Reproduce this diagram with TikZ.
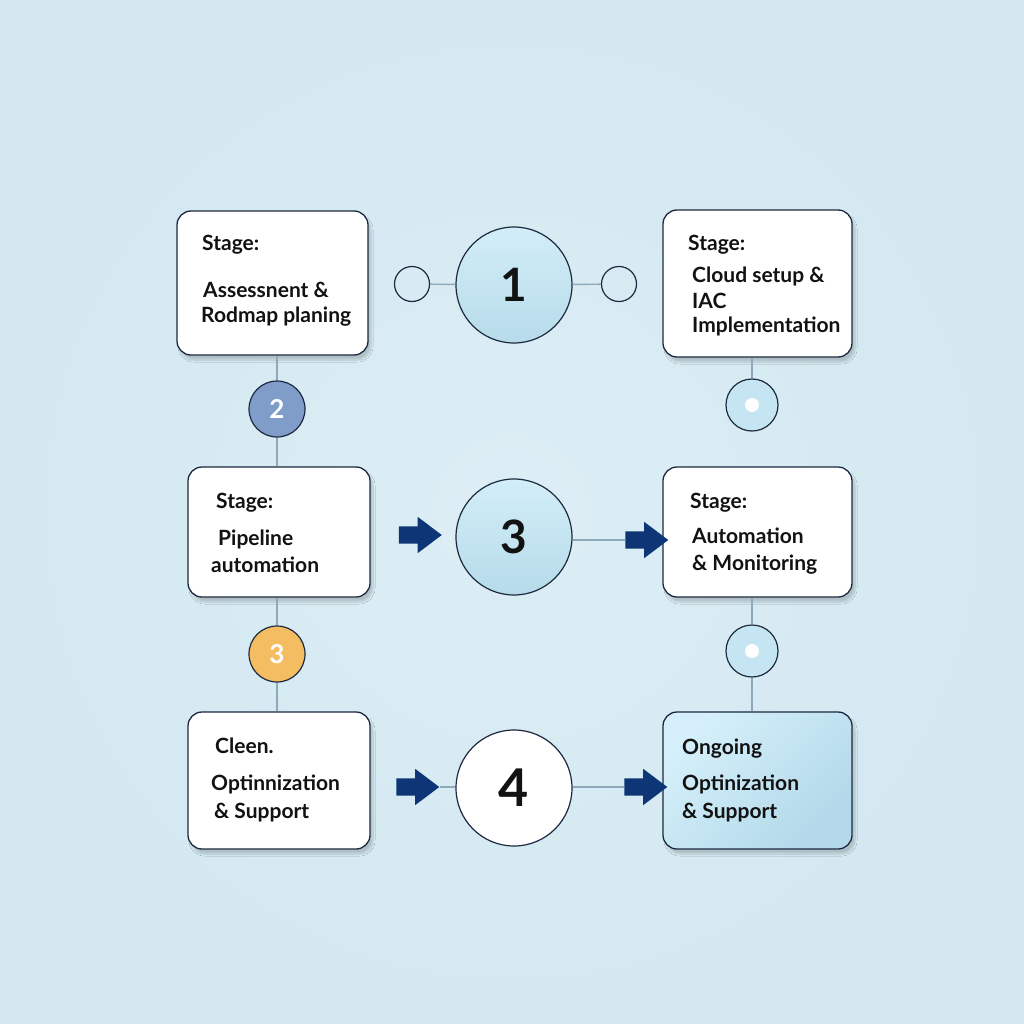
\documentclass[tikz,border=0pt]{standalone}
\usepackage{fontspec}
\setmainfont{Lato}
\usetikzlibrary{shapes.arrows,shadows.blur}
\definecolor{bg}{HTML}{D3E8F1}
\definecolor{bglight}{HTML}{DDEEF5}
\definecolor{ink}{HTML}{121212}
\definecolor{navyline}{HTML}{1C2940}
\definecolor{linkgray}{HTML}{8EA9BA}
\definecolor{arrowblue}{HTML}{0E3575}
\definecolor{disctop}{HTML}{D2EEF8}
\definecolor{discbot}{HTML}{B7DBEA}
\definecolor{markfill}{HTML}{C6E5F2}
\definecolor{twofill}{HTML}{7F9DC8}
\definecolor{orangefill}{HTML}{F4BD62}
\definecolor{ongtop}{HTML}{D5F0FA}
\definecolor{ongbot}{HTML}{B2D8E9}

\begin{document}
\begin{tikzpicture}[x=1pt,y=-1pt]
\tikzset{stagebox/.style = {draw=navyline, fill=white, rounded corners=14pt, line width=1.3pt, inner sep=0pt,
  blur shadow={shadow blur steps=10, shadow xshift=3pt, shadow yshift=-5pt, shadow opacity=18}}}
\tikzset{bigdisc/.style = {shape=circle, draw=navyline, line width=1.2pt, minimum size=116pt, inner sep=0pt,
  top color=disctop, bottom color=discbot, text=ink, font=\fontsize{46}{46}\selectfont\bfseries}}
\tikzset{ring/.style = {shape=circle, draw=navyline, line width=1.2pt, minimum size=35pt, inner sep=0pt}}
\tikzset{markdisc/.style = {shape=circle, draw=navyline, line width=1.2pt, minimum size=52pt, inner sep=0pt, fill=markfill}}
\tikzset{badge/.style = {shape=circle, draw=navyline, line width=1.2pt, minimum size=56pt, inner sep=0pt,
  text=white, font=\fontsize{26}{26}\selectfont\bfseries}}
\tikzset{blockarrow/.style = {single arrow, fill=arrowblue, inner xsep=0pt, inner ysep=8.5pt, minimum height=43pt,
  single arrow head extend=9.5pt, single arrow tip angle=74}}
\tikzset{link/.style = {draw=linkgray, line width=1.4pt}}
\tikzset{lbl/.style = {anchor=base west, inner sep=0pt, text=ink, font=\fontsize{21}{21}\selectfont\bfseries}}

% background
\useasboundingbox (0,0) rectangle (1024,1024);
\shade[inner color=bglight, outer color=bg] (0,0) rectangle (1024,1024);

% boxes
\node[stagebox, minimum width=191pt, minimum height=144pt] (assess) at (272.5,283) {};
\node[stagebox, minimum width=189pt, minimum height=147pt] (cloud) at (757.5,283.5) {};
\node[stagebox, minimum width=182pt, minimum height=130pt] (pipe) at (279,532) {};
\node[stagebox, minimum width=189pt, minimum height=130pt] (automon) at (757.5,532) {};
\node[stagebox, minimum width=182pt, minimum height=137pt] (clean) at (279,780.5) {};
\node[stagebox, minimum width=189pt, minimum height=137pt, left color=ongtop, right color=ongbot, shading angle=45] (ongoing) at (757.5,780.5) {};

% circles
\node[bigdisc] (one) at (514,285) {1};
\node[bigdisc] (three) at (514,537) {3};
\node[bigdisc, fill=white, top color=white, bottom color=white, font=\fontsize{52}{52}\selectfont\bfseries] (four) at (514,788) {4};
\node[ring] (ringl) at (412,284) {};
\node[ring] (ringr) at (619,284) {};
\node[markdisc] (markb) at (752,405) {};
\node[markdisc] (markd) at (752,651) {};
\node[circle, fill=white, minimum size=14pt, inner sep=0pt] (dotb) at (markb) {};
\node[circle, fill=white, minimum size=14pt, inner sep=0pt] (dotd) at (markd) {};
\node[badge, fill=twofill] (two) at (277,409) {2};
\node[badge, fill=orangefill] (threeo) at (277,654) {3};

% arrows
\node[blockarrow] (arr1) at (414.5,535) {};
\node[blockarrow] (arr2) at (641,540) {};
\node[blockarrow] (arr3) at (412,787) {};
\node[blockarrow] (arr4) at (640,787) {};

% edges
\draw[link] (ringl) -- (one);
\draw[link] (one) -- (ringr);
\draw[link] (assess.south -| two) -- (two);
\draw[link] (two) -- (pipe.north -| two);
\draw[link] (pipe.south -| threeo) -- (threeo);
\draw[link] (threeo) -- (clean.north -| threeo);
\draw[link] (cloud.south -| markb) -- (markb);
\draw[link] (automon.south -| markd) -- (markd);
\draw[link] (markd) -- (ongoing.north -| markd);
\draw[link] (three.east |- arr2) -- (arr2);
\draw[link] (arr3) -- (four.west |- arr3);
\draw[link] (four.east |- arr4) -- (arr4);

% labels
\node[lbl] (a1) at (202,250) {Stage:};
\node[lbl] (a2) at (203,297) {Assessnent \&};
\node[lbl] (a3) at (201,322) {Rodmap planing};
\node[lbl] (b1) at (688,250) {Stage:};
\node[lbl] (b2) at (692,282) {Cloud setup \&};
\node[lbl] (b3) at (692,308) {IAC};
\node[lbl] (b4) at (692,332) {Implementation};
\node[lbl] (c1) at (216,508) {Stage:};
\node[lbl] (c2) at (218,545) {Pipeline};
\node[lbl] (c3) at (211,572) {automation};
\node[lbl] (d1) at (690,508) {Stage:};
\node[lbl] (d2) at (692,543) {Automation};
\node[lbl] (d3) at (692,570) {\& Monitoring};
\node[lbl] (e1) at (215,753) {Cleen.};
\node[lbl] (e2) at (211,790) {Optinnization};
\node[lbl] (e3) at (214,818) {\& Support};
\node[lbl] (f1) at (682,754) {Ongoing};
\node[lbl] (f2) at (682,790) {Optinization};
\node[lbl] (f3) at (682,818) {\& Support};

\end{tikzpicture}
\end{document}
